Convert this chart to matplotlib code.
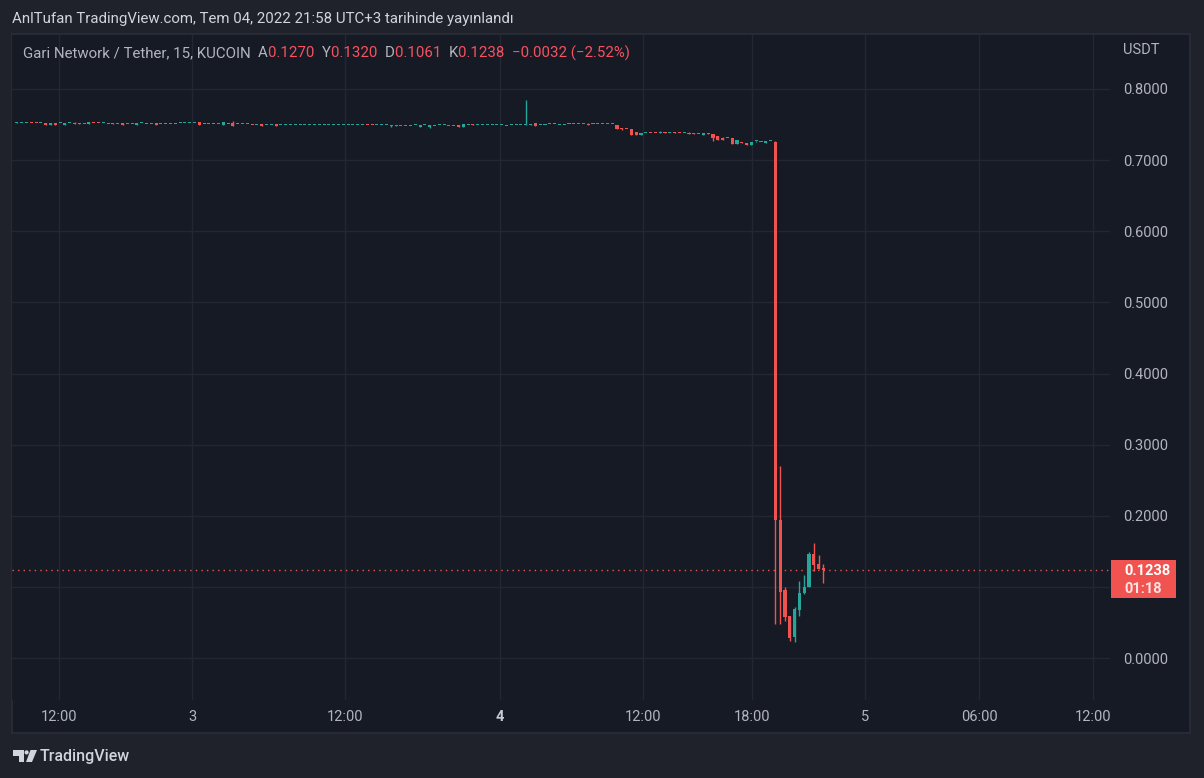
import matplotlib
matplotlib.use('Agg')
import matplotlib.pyplot as plt
from matplotlib.patches import Rectangle, Polygon, Circle
from matplotlib.transforms import blended_transform_factory

W, H = 1204, 778
FONT = ['Roboto', 'DejaVu Sans']

# ---------------- data (15-min candles, GARI/USDT) ----------------
opens = [
    .7528, .7516, .7516, .7520, .7520, .7516, .7522, .7499, .7522, .7516,
    .7499, .7516, .7522, .7506, .7502, .7512, .7520, .7520, .7516, .7506,
    .7506, .7502, .7522, .7502, .7502, .7499, .7516, .7506, .7502, .7518,
    .7506, .7506, .7502, .7506, .7516, .7516, .7516, .7516, .7529, .7506,
    .7506, .7506, .7502, .7499, .7506, .7522, .7506, .7502, .7502, .7492,
    .7488, .7504, .7488, .7488, .7504, .7488, .7488, .7488, .7488, .7488,
    .7488, .7488, .7488, .7488, .7488, .7488, .7488, .7488, .7488, .7488,
    .7488, .7488, .7488, .7492, .7492, .7488, .7488, .7488, .7476, .7478,
    .7478, .7478, .7478, .7488, .7466, .7490, .7466, .7478, .7488, .7488,
    .7474, .7474, .7494, .7466, .7488, .7492, .7488, .7488, .7488, .7488,
    .7488, .7488, .7474, .7488, .7488, .7488, .7490, .7488, .7522, .7488,
    .7488, .7502, .7506, .7488, .7488, .7502, .7502, .7502, .7502, .7508,
    .7502, .7502, .7502, .7502, .7502, .7494, .7452, .7438, .7438, .7395,
    .7353, .7375, .7379, .7379, .7377, .7381, .7375, .7391, .7379, .7375,
    .7381, .7377, .7364, .7357, .7374, .7367, .7339, .7311, .7308, .7311,
    .7231, .7255, .7245, .7217, .7263, .7258, .7245, .7263, .7258, .1940,
    .0956, .0590, .0300, .0680, .0918, .1000, .1460, .1320, .1270,
]
highs = [
    .7540, .7518, .7518, .7520, .7520, .7518, .7522, .7522, .7522, .7518,
    .7522, .7518, .7532, .7518, .7504, .7536, .7520, .7520, .7518, .7506,
    .7518, .7504, .7522, .7504, .7504, .7522, .7518, .7506, .7504, .7518,
    .7506, .7506, .7504, .7506, .7518, .7518, .7518, .7518, .7540, .7506,
    .7506, .7506, .7504, .7536, .7506, .7550, .7506, .7504, .7504, .7492,
    .7490, .7504, .7490, .7490, .7504, .7490, .7490, .7490, .7490, .7490,
    .7490, .7490, .7490, .7490, .7490, .7490, .7490, .7490, .7490, .7490,
    .7490, .7490, .7490, .7492, .7492, .7490, .7490, .7490, .7490, .7490,
    .7480, .7480, .7480, .7490, .7494, .7492, .7494, .7478, .7490, .7490,
    .7476, .7476, .7494, .7508, .7490, .7508, .7490, .7490, .7490, .7490,
    .7490, .7490, .7476, .7490, .7490, .7490, .7845, .7508, .7522, .7490,
    .7490, .7504, .7506, .7490, .7490, .7504, .7504, .7504, .7504, .7518,
    .7504, .7504, .7504, .7504, .7504, .7494, .7452, .7438, .7438, .7395,
    .7381, .7377, .7379, .7379, .7409, .7395, .7377, .7391, .7379, .7377,
    .7395, .7377, .7364, .7381, .7381, .7367, .7339, .7325, .7308, .7311,
    .7283, .7255, .7245, .7255, .7265, .7260, .7265, .7265, .7262, .2700,
    .0998, .0590, .0717, .1080, .1167, .1490, .1617, .1448, .1320,
]
lows = [
    .7528, .7516, .7516, .7518, .7518, .7516, .7499, .7499, .7499, .7516,
    .7499, .7516, .7504, .7504, .7502, .7512, .7518, .7518, .7516, .7504,
    .7504, .7502, .7499, .7502, .7502, .7499, .7516, .7504, .7502, .7499,
    .7504, .7504, .7502, .7504, .7516, .7516, .7516, .7516, .7499, .7504,
    .7504, .7504, .7502, .7499, .7504, .7485, .7504, .7502, .7502, .7490,
    .7488, .7485, .7488, .7488, .7485, .7488, .7488, .7488, .7488, .7488,
    .7488, .7488, .7488, .7488, .7488, .7488, .7488, .7488, .7488, .7488,
    .7488, .7488, .7488, .7490, .7490, .7488, .7488, .7488, .7470, .7478,
    .7478, .7478, .7478, .7488, .7466, .7490, .7457, .7476, .7488, .7488,
    .7474, .7474, .7466, .7466, .7488, .7490, .7488, .7488, .7488, .7488,
    .7488, .7488, .7474, .7488, .7488, .7488, .7490, .7488, .7480, .7488,
    .7488, .7502, .7504, .7488, .7488, .7502, .7502, .7502, .7502, .7494,
    .7502, .7502, .7502, .7502, .7502, .7438, .7424, .7433, .7357, .7357,
    .7353, .7375, .7377, .7377, .7377, .7379, .7375, .7377, .7377, .7375,
    .7362, .7362, .7362, .7357, .7372, .7273, .7287, .7287, .7306, .7220,
    .7231, .7235, .7217, .7217, .7250, .7258, .7245, .7263, .0480, .0480,
    .0525, .0243, .0230, .0595, .0900, .1000, .1220, .1250, .1061,
]
closes = [
    .7538, .7518, .7518, .7518, .7518, .7518, .7499, .7522, .7499, .7518,
    .7522, .7518, .7504, .7504, .7504, .7536, .7518, .7518, .7518, .7504,
    .7504, .7504, .7499, .7504, .7504, .7522, .7518, .7504, .7504, .7499,
    .7504, .7504, .7504, .7504, .7518, .7518, .7518, .7518, .7499, .7504,
    .7504, .7504, .7504, .7536, .7504, .7485, .7504, .7504, .7504, .7490,
    .7490, .7485, .7490, .7490, .7485, .7490, .7490, .7490, .7490, .7490,
    .7490, .7490, .7490, .7490, .7490, .7490, .7490, .7490, .7490, .7490,
    .7490, .7490, .7490, .7490, .7490, .7490, .7490, .7490, .7490, .7480,
    .7480, .7480, .7480, .7490, .7494, .7492, .7494, .7476, .7490, .7490,
    .7476, .7476, .7466, .7508, .7490, .7490, .7490, .7490, .7490, .7490,
    .7490, .7490, .7476, .7490, .7490, .7490, .7504, .7490, .7480, .7490,
    .7490, .7504, .7504, .7490, .7490, .7504, .7504, .7504, .7504, .7494,
    .7504, .7504, .7504, .7504, .7504, .7438, .7443, .7433, .7357, .7357,
    .7381, .7377, .7377, .7377, .7381, .7379, .7377, .7377, .7377, .7377,
    .7362, .7362, .7362, .7381, .7372, .7315, .7287, .7287, .7306, .7220,
    .7283, .7235, .7217, .7255, .7265, .7260, .7265, .7265, .1940, .0930,
    .0580, .0286, .0690, .0914, .0998, .1460, .1308, .1250, .1238,
]

x_tick_pos = [8.8, 36.5, 68.4, 100.6, 130.4, 153.2, 176.7, 200.4, 224.2]
x_tick_labels = ['12:00', '3', '12:00', '4', '12:00', '18:00', '5', '06:00', '12:00']
y_ticks = [0.0, 0.1, 0.2, 0.3, 0.4, 0.5, 0.6, 0.7, 0.8]

title_text = 'AnlTufan TradingView.com, Tem 04, 2022 21:58 UTC+3 tarihinde yayınlandı'
symbol_text = 'Gari Network / Tether, 15, KUCOIN'
ohlc_labels = ['A', 'Y', 'D', 'K']
change_text = '\u22120.0032 (\u22122.52%)'
countdown = '01:18'

# ---------------- style ----------------
OUTER_BG = '#1f222b'
CHART_BG = '#161a25'
BORDER = '#2a2e39'
GRID = '#232733'
TXT = '#b2b5be'
UP = '#26a69a'
DOWN = '#ef5350'
FS = 10.8
TFS = 10.5

def fx(px):
    return px / W

def fy(py):
    return 1 - py / H

fig = plt.figure(figsize=(W / 100, H / 100), dpi=100, facecolor=OUTER_BG)

# chart pane frame
fig.add_artist(Rectangle((fx(12), fy(733)), (1190 - 12) / W, (733 - 34) / H,
                         transform=fig.transFigure, facecolor=CHART_BG,
                         edgecolor=BORDER, lw=1.2, zorder=0))

ax = fig.add_axes([fx(12), fy(700), (1110 - 12) / W, (700 - 35) / H])
ax.set_facecolor(CHART_BG)
for s in ax.spines.values():
    s.set_visible(False)

n = len(closes)
assert len(opens) == n and len(highs) == n and len(lows) == n
xs = list(range(n))
cols = [UP if c >= o else DOWN for o, c in zip(opens, closes)]
bottoms = [min(o, c) for o, c in zip(opens, closes)]
heights = [max(abs(c - o), 0.0014) for o, c in zip(opens, closes)]

ax.vlines(xs, lows, highs, colors=cols, linewidth=1.0, zorder=3)
ax.bar(xs, heights, bottom=bottoms, width=0.64, color=cols, linewidth=0, zorder=4)

ax.set_xlim(-1.02, 227.7)
ax.set_ylim((658 - 700) / 711.25, (658 - 35) / 711.25)

ax.set_xticks(x_tick_pos)
ax.set_xticklabels(x_tick_labels)
ax.set_yticks(y_ticks)
ax.set_yticklabels(['' if abs(v - 0.1) < 1e-9 else f'{v:.4f}' for v in y_ticks])
ax.yaxis.tick_right()
ax.tick_params(axis='x', length=0, pad=7.5, labelsize=TFS, labelcolor=TXT)
ax.tick_params(axis='y', length=0, pad=9.4, labelsize=TFS, labelcolor=TXT)
for lab in ax.get_xticklabels() + ax.get_yticklabels():
    lab.set_family(FONT)
for lab, t in zip(ax.get_xticklabels(), x_tick_labels):
    if t == '4':
        lab.set_fontweight('bold')
        lab.set_color('#c8cbd3')
ax.grid(True, color=GRID, linewidth=1, zorder=0)
ax.set_axisbelow(True)

# last price line
last = closes[-1]
ax.axhline(last, color=DOWN, linewidth=1, linestyle=(0, (1, 3)), zorder=2)

# price label on axis
bt = blended_transform_factory(fig.transFigure, ax.transData)
fig.add_artist(Rectangle((fx(1111), last - 28.5 / 711.25), 65 / W, 38.5 / 711.25,
                         transform=bt, facecolor='#f05350', edgecolor='none', zorder=5))
fig.text(fx(1124), last - 1 / 711.25, f'{last:.4f}', transform=bt, color='white',
         fontsize=TFS, fontweight='bold', va='center', ha='left', family=FONT, zorder=6)
fig.text(fx(1124), last - 19 / 711.25, countdown, transform=bt, color='#fde3e3',
         fontsize=TFS, fontweight='bold', va='center', ha='left', family=FONT, zorder=6)

fig.text(fx(1123), fy(50), 'USDT', color=TXT, fontsize=TFS, va='center', ha='left', family=FONT)

# header
fig.text(fx(12), fy(19), title_text, color='#d1d4dc', fontsize=FS, va='center',
         ha='left', family=FONT)

# legend line
renderer = fig.canvas.get_renderer()
vals = [opens[-1], highs[-1], lows[-1], closes[-1]]
parts = [(symbol_text + '  ', '#b2b5be')]
for lbl, v in zip(ohlc_labels, vals):
    parts.append((lbl, '#b2b5be'))
    parts.append((f'{v:.4f}  ', '#f7525f'))
parts.append((change_text, '#f7525f'))
xpos = 23
for txt, col in parts:
    t = fig.text(fx(xpos), fy(53), txt, color=col, fontsize=FS, va='center',
                 ha='left', family=FONT)
    xpos += t.get_window_extent(renderer).width

# footer logo
logo_col = '#d1d4dc'
fig.add_artist(Polygon([(fx(13), fy(750)), (fx(24), fy(750)), (fx(24), fy(762)),
                        (fx(19), fy(762)), (fx(19), fy(755.5)), (fx(13), fy(755.5))],
                       closed=True, transform=fig.transFigure, facecolor=logo_col,
                       edgecolor='none'))
fig.add_artist(Polygon([(fx(30.5), fy(750)), (fx(37), fy(750)), (fx(32), fy(762)),
                        (fx(26), fy(762))], closed=True, transform=fig.transFigure,
                       facecolor=logo_col, edgecolor='none'))
fig.add_artist(Circle((26.6, H - 752.4), 2.1, transform=None, facecolor=logo_col,
                      edgecolor='none'))
fig.text(fx(40), fy(757), 'TradingView', color=logo_col, fontsize=11.5, va='center',
         ha='left', family=FONT, fontweight='medium')

fig.savefig('out.png', dpi=100, facecolor=OUTER_BG)
